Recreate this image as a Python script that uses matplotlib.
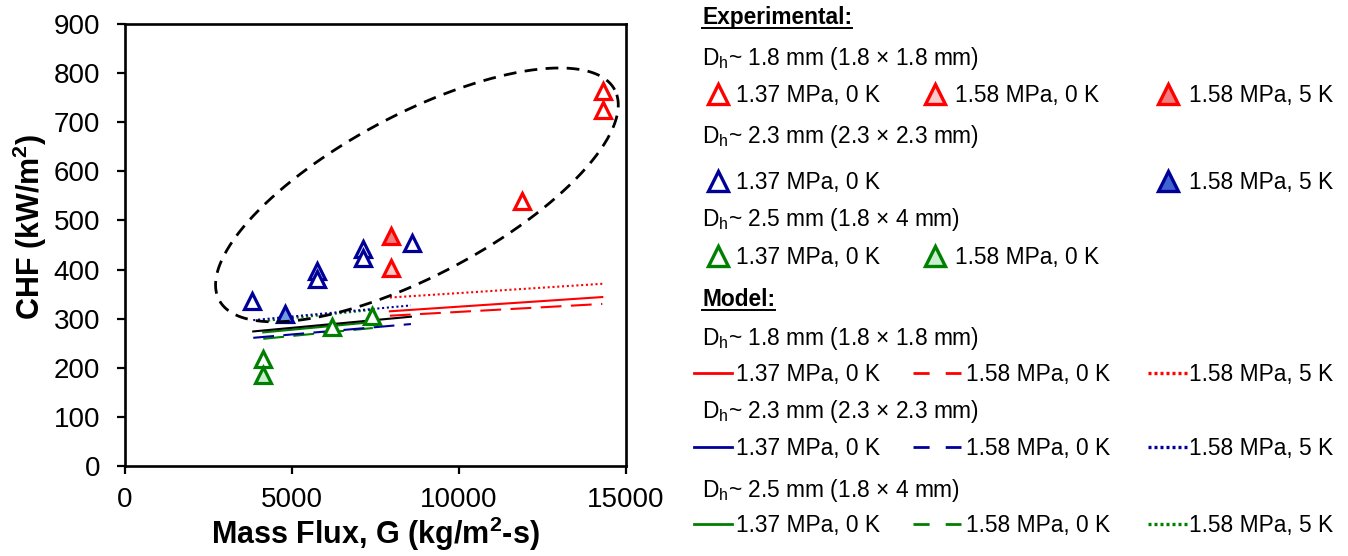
import numpy as np
import matplotlib
matplotlib.use("Agg")
import matplotlib.pyplot as plt
from matplotlib.lines import Line2D

plt.rcParams['font.family'] = ['Liberation Sans', 'DejaVu Sans']
plt.rcParams['mathtext.fontset'] = 'custom'
plt.rcParams['mathtext.rm'] = 'Liberation Sans'
plt.rcParams['mathtext.it'] = 'Liberation Sans:italic'
plt.rcParams['mathtext.bf'] = 'Liberation Sans:bold'

RED = '#FF0000'
NAVY = '#000099'
GREEN = '#008000'
PINK_LIGHT = '#FBC9C9'
PINK_MID = '#EF7E7E'
BLUE_FILL = '#6E9BE3'
GREEN_LIGHT = '#C9F0CE'

# ---- experimental CHF data: mass flux G (kg/m2-s), CHF (kW/m2) ----
g_d18_137_0k = [11900, 14300, 14300]
chf_d18_137_0k = [540, 763, 725]
g_d18_158_0k = [7950]
chf_d18_158_0k = [404]
g_d18_158_5k = [7950]
chf_d18_158_5k = [469]

g_d23_137_0k = [3790, 5740, 5740, 7130, 7130, 8580]
chf_d23_137_0k = [336, 397, 381, 442, 424, 455]
g_d23_158_5k = [4790]
chf_d23_158_5k = [310]

g_d25_137_0k = [4120, 6190, 7385]
chf_d25_137_0k = [218, 283, 306]
g_d25_158_0k = [4120]
chf_d25_158_0k = [185]

# ---- model predictions (end points of each line) ----
g_m18 = [7930, 14290]
chf_m18_137_0k = [315, 344]
chf_m18_158_0k = [306, 330]
chf_m18_158_5k = [343, 371]

g_m23 = [3840, 8560]
chf_m23_137_0k = [274, 304]
chf_m23_158_0k = [261, 289]
chf_m23_158_5k = [297, 327]

g_m25 = [4140, 7420]
chf_m25_137_0k = [272, 293]
chf_m25_158_0k = [259, 281]
chf_m25_158_5k = [295, 318]

x_ticks = [0, 5000, 10000, 15000]
y_ticks = list(range(0, 901, 100))

W, H = 1348, 556
fig = plt.figure(figsize=(W / 100, H / 100), dpi=100)
ax = fig.add_axes([125 / W, (H - 466) / H, (626 - 125) / W, (466 - 24) / H])
ax.set_xlim(0, 15000)
ax.set_ylim(0, 900)

LW = 1.5
DASH = (0, (10, 4.5))
DOT = (0, (1, 1.3))

# model lines
ax.plot(g_m25, chf_m25_137_0k, color=GREEN, lw=LW, zorder=2)
ax.plot(g_m25, chf_m25_158_0k, color=GREEN, lw=LW, ls=DASH, zorder=2)
ax.plot(g_m25, chf_m25_158_5k, color=GREEN, lw=LW, ls=DOT, zorder=2)
ax.plot(g_m23, chf_m23_137_0k, color='black', lw=LW, zorder=2)
ax.plot(g_m23, chf_m23_158_0k, color=NAVY, lw=LW, ls=DASH, zorder=2)
ax.plot(g_m23, chf_m23_158_5k, color=NAVY, lw=LW, ls=DOT, zorder=2)
ax.plot(g_m18, chf_m18_137_0k, color=RED, lw=LW, zorder=2)
ax.plot(g_m18, chf_m18_158_0k, color=RED, lw=LW, ls=DASH, zorder=2)
ax.plot(g_m18, chf_m18_158_5k, color=RED, lw=LW, ls=DOT, zorder=2)

MS, MEW = 12, 2.3


def tri(x, y, edge, face):
    ax.plot(x, y, ls='none', marker='^', ms=MS, mew=MEW, mec=edge, mfc=face,
            zorder=3, clip_on=False)


tri(g_d18_137_0k, chf_d18_137_0k, RED, 'white')
tri(g_d18_158_0k, chf_d18_158_0k, RED, PINK_LIGHT)
tri(g_d18_158_5k, chf_d18_158_5k, RED, PINK_MID)
tri(g_d23_137_0k, chf_d23_137_0k, NAVY, 'white')
tri(g_d23_158_5k, chf_d23_158_5k, NAVY, BLUE_FILL)
tri(g_d25_137_0k, chf_d25_137_0k, GREEN, 'white')
tri(g_d25_158_0k, chf_d25_158_0k, GREEN, GREEN_LIGHT)

# dashed ellipse grouping the high-CHF points (built in display space)
ell_center = (8740, 552)
ell_a, ell_b, ell_ang = 224.0, 80.5, np.deg2rad(28)
t = np.linspace(0, 2 * np.pi, 400)
cx, cy = ax.transData.transform(ell_center)
px = cx + ell_a * np.cos(t) * np.cos(ell_ang) - ell_b * np.sin(t) * np.sin(ell_ang)
py = cy + ell_a * np.cos(t) * np.sin(ell_ang) + ell_b * np.sin(t) * np.cos(ell_ang)
ex, ey = ax.transData.inverted().transform(np.column_stack([px, py])).T
ax.plot(ex, ey, color='black', lw=2.0, ls=(0, (4.6, 3.0)), zorder=4)

# axes styling
for s in ax.spines.values():
    s.set_linewidth(1.9)
ax.set_xticks(x_ticks)
ax.set_yticks(y_ticks)
ax.tick_params(direction='out', length=6, width=1.6, labelsize=20)
ax.tick_params(axis='y', pad=12)
ax.tick_params(axis='x', pad=9)
ax.set_xlabel('Mass Flux, G (kg/m$^\\mathbf{2}$-s)', fontsize=22, fontweight='bold', labelpad=1)
ax.set_ylabel('CHF (kW/m$^\\mathbf{2}$)', fontsize=22, fontweight='bold', labelpad=4)
ax.yaxis.set_label_coords(-0.152, 0.54)

# ---- legend panel ----
FS = 16.4


def fx(x):
    return x / W


def fy(y):
    return 1 - y / H


def txt(x, base, s, bold=False):
    return fig.text(fx(x), fy(base), s, fontsize=FS, va='baseline', ha='left',
                    fontweight='bold' if bold else 'normal')


def leg_tri(x, y, edge, face):
    fig.add_artist(Line2D([fx(x)], [fy(y)], transform=fig.transFigure, ls='none',
                          marker='^', ms=14, mew=2.4, mec=edge, mfc=face))


def leg_line(x0, x1, y, color, ls, lw=2.0):
    fig.add_artist(Line2D([fx(x0), fx(x1)], [fy(y), fy(y)], transform=fig.transFigure,
                          color=color, lw=lw, ls=ls))


heads = []
heads.append(txt(702, 24, 'Experimental:', bold=True))
txt(702, 65, 'D$_\\mathregular{h}$~ 1.8 mm (1.8 × 1.8 mm)')
r = 102
leg_tri(718, r - 8, RED, 'white'); txt(736, r, '1.37 MPa, 0 K')
leg_tri(935, r - 8, RED, PINK_LIGHT); txt(955, r, '1.58 MPa, 0 K')
leg_tri(1168, r - 8, RED, PINK_MID); txt(1189, r, '1.58 MPa, 5 K')
txt(702, 143, 'D$_\\mathregular{h}$~ 2.3 mm (2.3 × 2.3 mm)')
r = 189
leg_tri(718, r - 8, NAVY, 'white'); txt(736, r, '1.37 MPa, 0 K')
leg_tri(1168, r - 8, NAVY, '#3F63D0'); txt(1189, r, '1.58 MPa, 5 K')
txt(702, 226, 'D$_\\mathregular{h}$~ 2.5 mm (1.8 × 4 mm)')
r = 264
leg_tri(718, r - 8, GREEN, 'white'); txt(736, r, '1.37 MPa, 0 K')
leg_tri(935, r - 8, GREEN, GREEN_LIGHT); txt(955, r, '1.58 MPa, 0 K')

heads.append(txt(702, 306, 'Model:', bold=True))
model_rows = [
    (345, 381, 'D$_\\mathregular{h}$~ 1.8 mm (1.8 × 1.8 mm)', RED),
    (418, 455, 'D$_\\mathregular{h}$~ 2.3 mm (2.3 × 2.3 mm)', NAVY),
    (497, 532, 'D$_\\mathregular{h}$~ 2.5 mm (1.8 × 4 mm)', GREEN),
]
for hb, rb, label, col in model_rows:
    txt(702, hb, label)
    leg_line(694, 732, rb - 8, col, '-')
    txt(736, rb, '1.37 MPa, 0 K')
    leg_line(913, 961, rb - 8, col, (0, (5.8, 5.8)))
    txt(966, rb, '1.58 MPa, 0 K')
    leg_line(1148, 1187, rb - 8, col, (0, (0.9, 0.9)), lw=2.4)
    txt(1189, rb, '1.58 MPa, 5 K')

# underline the section headings
fig.canvas.draw()
rend = fig.canvas.get_renderer()
for h in heads:
    bb = h.get_window_extent(rend).transformed(fig.transFigure.inverted())
    yb = h.get_position()[1] - 3.5 / H
    fig.add_artist(Line2D([bb.x0, bb.x1], [yb, yb], transform=fig.transFigure,
                          color='black', lw=1.4))

fig.savefig('out.png', dpi=100)
